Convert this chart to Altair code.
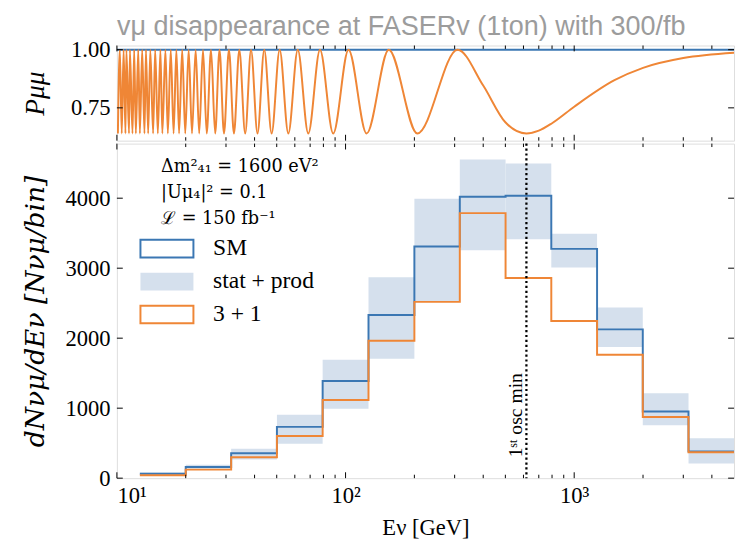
import altair as alt
import pandas as pd

TITLE = "vμ disappearance at FASERv (1ton) with 300/fb"

# --- top panel: oscillation probability, extrema (GeV) ---
osc_max_E = [309, 154.5, 103, 77.3, 61.8, 51.5, 44.1, 38.6, 34.3, 30.9, 28.1, 25.8,
             23.8, 22.1, 20.6, 19.3, 18.2, 17.2, 16.3, 15.5, 14.7, 14.0, 13.4, 12.9,
             12.4, 11.9, 11.4, 11.0, 10.7, 10.3]
osc_min_E = [618, 206, 123.6, 88.3, 68.7, 56.2, 47.5, 41.2, 36.4, 32.5, 29.4, 26.9,
             24.7, 22.9, 21.3, 19.9, 18.7, 17.7, 16.7, 15.8, 15.1, 14.4, 13.7, 13.2,
             12.6, 12.1, 11.7, 11.3, 10.9, 10.5, 10.1]
P_max = 1.0
P_min = 0.64
extra_E = [400, 500, 700, 800, 1000, 1500, 2000, 3000, 5000]
extra_P = [0.846, 0.688, 0.652, 0.684, 0.755, 0.869, 0.922, 0.964, 0.987]
sm_top_E = [10, 5000]
sm_top_P = [1.0, 1.0]

# --- bottom panel: histogram (bin edges in GeV, counts per bin) ---
bin_edges = [12.6, 20.0, 31.6, 50.1, 79.4, 126, 200, 316, 501, 794, 1259, 1995, 3162, 5012]
sm_counts = [62, 160, 355, 733, 1388, 2332, 3310, 4020, 4034, 3276, 2126, 953, 383]
p31_counts = [42, 122, 299, 603, 1117, 1964, 2519, 3787, 2861, 2244, 1762, 874, 369]
band_lo = [45, 135, 266, 491, 990, 1706, 2520, 3258, 3412, 3010, 1874, 757, 210]
band_hi = [80, 190, 420, 906, 1692, 2870, 3992, 4553, 4497, 3492, 2440, 1215, 569]
osc_min_line_E = [618]
osc_label_y = [900]

series_names = ["SM", "stat + prod", "3 + 1"]
annotation = "Δm²₄₁ = 1600 eV²\n|Uμ₄|² = 0.1\nℒ = 150 fb⁻¹"
osc_label = "1ˢᵗ osc min"

x_major_ticks = [10, 100, 1000]
x_minor_ticks = [20, 30, 40, 50, 60, 70, 80, 90, 200, 300, 400, 500, 600, 700, 800, 900,
                 2000, 3000, 4000]
top_y_ticks = [0.75, 1.0]
bot_y_ticks = [0, 1000, 2000, 3000, 4000]

BLUE = "#3b77b3"
ORANGE = "#ef8636"
BAND = "#d5e0ed"
SERIF = "Liberation Serif"
SERIF2 = "DejaVu Serif"

W = 629
H_TOP = 97
H_BOT = 341

x_scale = alt.Scale(type="log", domain=[10, 5000], nice=False)
top_y_scale = alt.Scale(domain=[0.609, 1.018], nice=False, zero=False)
bot_y_scale = alt.Scale(domain=[0, 4780], nice=False, zero=False)

# ---------- data frames ----------
osc_E = osc_max_E + osc_min_E + extra_E
osc_P = [P_max] * len(osc_max_E) + [P_min] * len(osc_min_E) + extra_P
osc_df = pd.DataFrame({"E": osc_E, "P": osc_P}).sort_values("E")
sm_top_df = pd.DataFrame({"E": sm_top_E, "P": sm_top_P})

sm_step = pd.DataFrame({"E": bin_edges, "N": sm_counts + [sm_counts[-1]]})
p31_step = pd.DataFrame({"E": bin_edges, "N": p31_counts + [p31_counts[-1]]})
band_df = pd.DataFrame({"E0": bin_edges[:-1], "E1": bin_edges[1:], "lo": band_lo, "hi": band_hi})
rule_df = pd.DataFrame({"E": osc_min_line_E})
osc_text_df = pd.DataFrame({"E": osc_min_line_E, "N": osc_label_y, "t": [osc_label]})
legend_df = pd.DataFrame({"series": series_names, "E": [None] * 3, "N": [None] * 3})

# ---------- axes ----------
y_axis_common = dict(ticks=False, domain=False, grid=False, labelPadding=7,
                     minExtent=62, maxExtent=62, titlePadding=7,
                     labelFont=SERIF, labelFontSize=23, labelColor="black",
                     titleColor="black", titleFontWeight="normal",
                     titleFontStyle="italic")
top_y_axis = alt.Axis(values=top_y_ticks, format=".2f", title="Pμμ", titleFontSize=28,
                      titleFont=SERIF, **y_axis_common)
bot_y_axis = alt.Axis(values=bot_y_ticks, format="d", title="dNνμ/dEν [Nνμ/bin]",
                      titleFontSize=27, titleFont=SERIF2, **y_axis_common)
bot_x_axis = alt.Axis(values=x_major_ticks, ticks=False, domain=False, grid=False,
                      labelFlush=True, labelPadding=7,
                      labelExpr="datum.value == 10 ? '10¹' : datum.value == 100 ? '10²' : '10³'",
                      labelFont=SERIF, labelFontSize=23, labelColor="black",
                      title="Eν [GeV]", titleFont=SERIF, titleFontSize=23,
                      titleFontWeight="normal", titleColor="black", titlePadding=9)


def tick_layers(height, xaxis, yvals, yscale, yaxis):
    layers = []
    for vals, L in ((x_major_ticks, 6), (x_minor_ticks, 3.5)):
        base = alt.Chart(pd.DataFrame({"E": vals})).mark_rule(color="black", strokeWidth=1)
        xe = alt.X("E:Q", scale=x_scale, axis=xaxis)
        layers.append(base.encode(x=xe, y=alt.value(0), y2=alt.value(L)))
        layers.append(base.encode(x=xe, y=alt.value(height), y2=alt.value(height - L)))
    base = alt.Chart(pd.DataFrame({"v": yvals})).mark_rule(color="black", strokeWidth=1)
    ye = alt.Y("v:Q", scale=yscale, axis=yaxis)
    layers.append(base.encode(y=ye, x=alt.value(0), x2=alt.value(6)))
    layers.append(base.encode(y=ye, x=alt.value(W), x2=alt.value(W - 6)))
    return layers


# ---------- top panel ----------
sm_top = alt.Chart(sm_top_df).mark_line(color=BLUE, strokeWidth=2, clip=True).encode(
    x=alt.X("E:Q", scale=x_scale, axis=None),
    y=alt.Y("P:Q", scale=top_y_scale, axis=top_y_axis),
)
osc_line = alt.Chart(osc_df).mark_line(color=ORANGE, strokeWidth=2, interpolate="monotone",
                                       clip=True).encode(
    x=alt.X("E:Q", scale=x_scale, axis=None),
    y=alt.Y("P:Q", scale=top_y_scale, axis=top_y_axis),
    order=alt.Order("E:Q"),
)
top = alt.layer(
    sm_top, osc_line, *tick_layers(H_TOP, None, top_y_ticks, top_y_scale, top_y_axis)
).properties(
    width=W, height=H_TOP,
    title=alt.Title(TITLE, anchor="start", frame="group", font="Liberation Sans",
                    fontSize=27.5, fontWeight="normal", color="#9c9c9c", offset=-2),
)

# ---------- bottom panel ----------
band = alt.Chart(band_df).mark_rect(color=BAND, clip=True).encode(
    x=alt.X("E0:Q", scale=x_scale, axis=bot_x_axis),
    x2="E1:Q",
    y=alt.Y("lo:Q", scale=bot_y_scale, axis=bot_y_axis),
    y2="hi:Q",
)
sm_line = alt.Chart(sm_step).mark_line(color=BLUE, strokeWidth=2, interpolate="step-after",
                                       clip=True).encode(
    x=alt.X("E:Q", scale=x_scale, axis=bot_x_axis),
    y=alt.Y("N:Q", scale=bot_y_scale, axis=bot_y_axis))
p31_line = alt.Chart(p31_step).mark_line(color=ORANGE, strokeWidth=2, interpolate="step-after",
                                         clip=True).encode(
    x=alt.X("E:Q", scale=x_scale, axis=bot_x_axis),
    y=alt.Y("N:Q", scale=bot_y_scale, axis=bot_y_axis))
dotted = alt.Chart(rule_df).mark_rule(color="black", strokeWidth=2.3,
                                      strokeDash=[2.2, 2.8]).encode(
    x=alt.X("E:Q", scale=x_scale, axis=bot_x_axis))
osc_txt = alt.Chart(osc_text_df).mark_text(angle=270, align="center", baseline="middle",
                                           dy=-11, font=SERIF, fontSize=20,
                                           color="black").encode(
    x=alt.X("E:Q", scale=x_scale, axis=bot_x_axis),
    y=alt.Y("N:Q", scale=bot_y_scale, axis=bot_y_axis), text="t:N")
ann = alt.Chart(pd.DataFrame({"a": [0]})).mark_text(
    align="left", baseline="middle", lineBreak="\n", lineHeight=26.5, font=SERIF2,
    fontSize=18, color="black").encode(
    x=alt.value(45), y=alt.value(23.5), text=alt.value(annotation))

LEG_PATH = "M-1.6875,-0.5625H1.6875V0.5625H-1.6875Z"
leg = alt.Legend(title=None, orient="none", legendX=34, legendY=190, symbolType=LEG_PATH,
                 symbolSize=1024, symbolStrokeWidth=2, symbolOpacity=1, labelFont=SERIF,
                 labelFontSize=24, labelOffset=30, rowPadding=3.6, padding=0,
                 labelColor="black")
legend_layer = alt.Chart(legend_df).mark_point(shape=LEG_PATH, filled=True, opacity=1,
                                               strokeWidth=2, size=1024).encode(
    x=alt.X("E:Q", scale=x_scale, axis=bot_x_axis),
    y=alt.Y("N:Q", scale=bot_y_scale, axis=bot_y_axis),
    fill=alt.Fill("series:N", scale=alt.Scale(domain=series_names,
                                              range=["transparent", BAND, "transparent"]),
                  legend=leg),
    stroke=alt.Stroke("series:N", scale=alt.Scale(domain=series_names,
                                                  range=[BLUE, "transparent", ORANGE]),
                      legend=leg),
)

bottom = alt.layer(
    band, sm_line, p31_line, dotted, osc_txt, ann, legend_layer,
    *tick_layers(H_BOT, bot_x_axis, bot_y_ticks, bot_y_scale, bot_y_axis)
).properties(width=W, height=H_BOT)

chart = alt.vconcat(top, bottom, spacing=0).properties(
    padding={"left": 13, "top": 0, "right": 0, "bottom": 5}
).configure_view(stroke="black", strokeWidth=1.5).configure(background="white")

chart.save("out.html", embed_options={"renderer": "svg", "actions": False})
